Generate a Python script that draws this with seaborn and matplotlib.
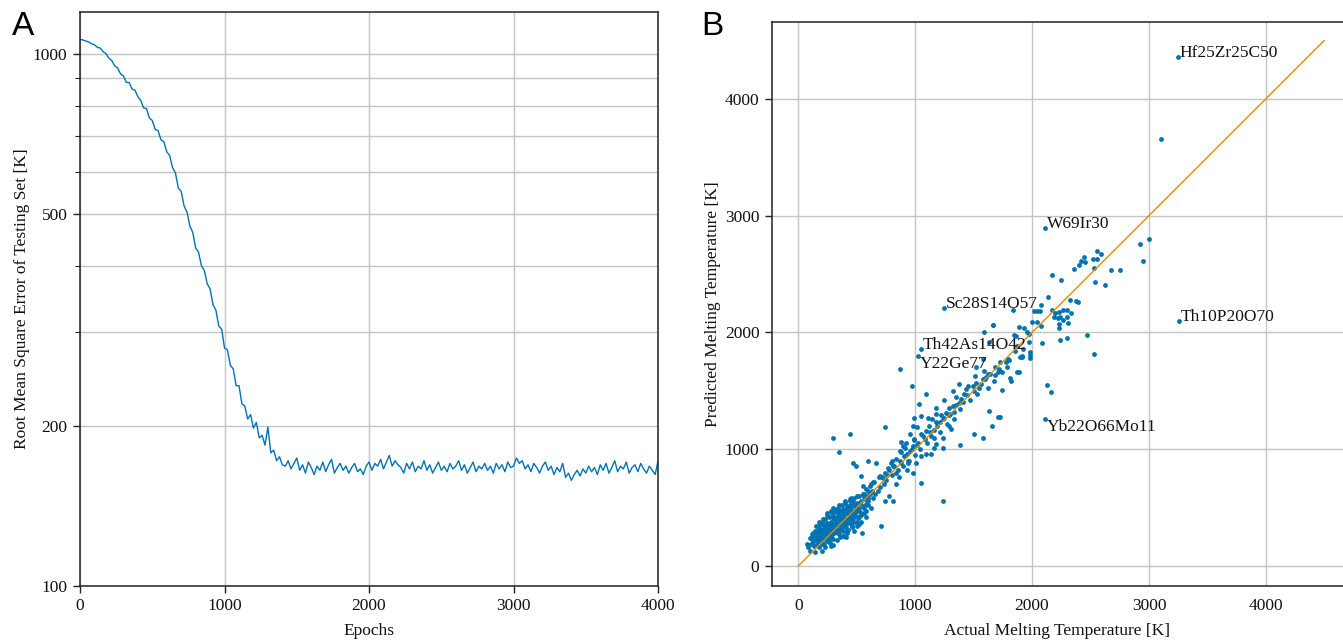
import numpy as np
import pandas as pd
import matplotlib
matplotlib.use("Agg")
import matplotlib.pyplot as plt
import matplotlib.ticker as mticker
import seaborn as sns

# =========================
# dados - painel A (erro do conjunto de teste, a cada 20 épocas)
# =========================
epocas = np.arange(0, 4001, 20)

rmse_queda = [
    1066, 1063, 1058, 1054, 1046, 1041, 1030, 1026, 1010, 1002,
    982, 972, 950, 942, 918, 910, 885, 884, 860, 855,
    832, 818, 792, 790, 758, 750, 722, 718, 690, 684,
    655, 645, 612, 598, 560, 552, 518, 505, 475, 462,
    432, 424, 400, 392, 370, 362, 338, 330, 308, 304,
    280, 278, 260, 256, 238, 238, 220, 218, 206, 210,
    198, 203, 190, 192, 184, 199, 178, 180, 172, 175,
    169,
]

rmse_plato = [
    168, 172, 166, 170, 174, 165, 169, 163, 171, 167,
    162, 168, 165, 171, 164, 169, 173, 163, 167, 170,
    165, 168, 163, 167, 170, 164, 166, 162, 168, 171,
    165, 170, 168, 173, 166, 171, 176, 168, 172, 169,
    167, 163, 170, 166, 171, 164, 168, 166, 172, 165,
    169, 163, 167, 171, 165, 168, 164, 170, 166, 168,
    172, 165, 169, 163, 167, 171, 164, 168, 166, 170,
    165, 168, 163, 170, 166, 169, 164, 171, 167, 168,
    174, 170, 172, 166, 169, 164, 170, 167, 163, 168,
    171, 165, 168, 162, 167, 164, 170, 160, 163, 158,
    162, 165, 161, 166, 163, 168, 164, 167, 162, 169,
    165, 170, 163, 167, 172, 164, 168, 166, 171, 163,
    167, 169, 164, 170, 166, 163, 168, 165, 162, 172,
]

rmse = rmse_queda + rmse_plato

# =========================
# dados - painel B (real x previsto, em K)
# =========================
rotulos = ["Hf25Zr25C50", "W69Ir30", "Sc28S14O57", "Th42As14O42",
           "Y22Ge77", "Th10P20O70", "Yb22O66Mo11"]
rotulo_real = [3245, 2115, 1245, 1046, 1025, 3255, 2112]
rotulo_prev = [4360, 2898, 2211, 1860, 1798, 2094, 1255]
rotulo_va = ["baseline", "baseline", "baseline", "baseline", "top", "baseline", "top"]

pontos_altos = [(3100, 3652), (1667, 2060)]

pontos_regiao_alta = [
    (2920, 2754), (3003, 2803), (2952, 2614), (2553, 2694), (2593, 2674),
    (2524, 2626), (2556, 2631), (2444, 2649), (2419, 2614), (2450, 2600),
    (2405, 2574), (2356, 2540), (2533, 2549), (2672, 2537), (2752, 2537),
    (2174, 2494), (2248, 2446), (2541, 2431), (2621, 2409), (2134, 2306),
    (2325, 2280), (2379, 2269), (2396, 2263), (2074, 2231), (1838, 2194),
    (2014, 2180), (2043, 2183), (2068, 2183), (2174, 2191), (2199, 2166),
    (2228, 2171), (2265, 2191), (2296, 2194), (2333, 2166), (2191, 2134),
    (2219, 2123), (2236, 2129), (2265, 2109), (2299, 2129), (2308, 2083),
    (2234, 2069), (2234, 2037), (2003, 2086), (2043, 2086), (1889, 2046),
    (1934, 2034), (2077, 2057), (1974, 1989), (1974, 1914), (2085, 1906),
    (2242, 1937), (2296, 1949), (2473, 1980), (2533, 1817), (1843, 1977),
    (1863, 1966), (1872, 1886), (1926, 1857), (1900, 1789), (1917, 1789),
    (1986, 1831), (1980, 1803), (1986, 1780), (1858, 1840), (1803, 1760),
    (1775, 1743), (1786, 1706), (1741, 1663), (1815, 1611), (1823, 1580),
    (1892, 1663), (1741, 1511), (2125, 1549), (2165, 1491), (1729, 1280),
    (1960, 2000), (1912, 1794), (1875, 1663), (1790, 1771),
]

pontos_regiao_media = [
    (1724, 1743), (1705, 1663), (1685, 1634), (1676, 1586), (1619, 1643),
    (1591, 2000), (1662, 2063), (1634, 1914), (1577, 1771), (1591, 1671),
    (1605, 1614), (1577, 1600), (1622, 1520), (1548, 1520), (1514, 1623),
    (1520, 1571), (1491, 1537), (1520, 1700), (1449, 1543), (1435, 1514),
    (1378, 1557), (1420, 1471), (1392, 1434), (1349, 1443), (1378, 1394),
    (1327, 1371), (1293, 1351), (1335, 1320), (1293, 1291), (1264, 1314),
    (1250, 1271), (1222, 1291), (1179, 1300), (1213, 1234), (1179, 1229),
    (1145, 1257), (1122, 1200), (1159, 1166), (1136, 1114), (1094, 1157),
    (1080, 1086), (1051, 1129), (1023, 1057), (994, 1086), (980, 1029),
    (952, 986), (923, 1057), (895, 1029), (867, 986), (901, 943),
    (938, 900), (881, 880), (838, 914), (810, 857), (795, 886),
    (767, 843), (739, 800), (724, 757), (696, 771), (668, 886),
    (639, 720), (611, 686), (582, 657), (554, 686), (597, 900),
    (540, 771), (497, 857), (469, 886), (440, 1129), (349, 977),
    (298, 1100), (739, 1186), (872, 1686), (972, 1537), (1037, 1386),
    (1094, 1471), (994, 1271), (1051, 1286), (980, 1200), (1051, 943),
    (980, 800), (1051, 714), (1236, 557), (1136, 957), (1179, 1043),
    (1236, 1014), (1293, 1200), (1382, 1034), (1503, 1129), (1577, 1100),
    (1656, 1200), (1710, 1280), (1634, 1329), (838, 700), (810, 557),
    (739, 557), (776, 600), (710, 343), (548, 286), (597, 586),
    (568, 571), (497, 514), (440, 571), (412, 486), (406, 251),
    (284, 171), (71, 186), (99, 243), (128, 286),
]

pontos_diagonal = [
    (620, 700), (650, 720), (680, 640), (700, 680), (720, 760), (750, 740),
    (780, 820), (800, 780), (820, 860), (850, 820), (870, 900), (900, 860),
    (930, 960), (950, 900), (970, 1000), (1000, 950), (1020, 1040), (640, 580),
    (660, 620), (690, 760), (730, 700), (760, 780), (800, 900), (840, 800),
    (880, 980), (910, 1010), (940, 880), (990, 1080), (1040, 1000), (1070, 1110),
    (1100, 1050), (1130, 1150), (1160, 1100), (1190, 1200), (1210, 1150),
    (1240, 1260), (1270, 1220), (1300, 1300), (1330, 1260), (1350, 1380),
    (1380, 1340), (1410, 1400), (1440, 1460), (1470, 1420), (1500, 1500),
    (1530, 1470), (1560, 1560), (1600, 1600), (1640, 1640), (1680, 1700),
    (1720, 1690), (880, 1060), (960, 1130), (1020, 1190), (1110, 1270),
    (1180, 1350), (1250, 1420), (1320, 1500), (860, 760), (930, 820),
    (1010, 880), (1090, 960), (1160, 1010), (1240, 1100), (1310, 1170),
]

pontos_aglomerado = [
    (95, 180), (110, 240), (120, 200), (130, 260), (135, 170), (140, 300),
    (150, 220), (155, 280), (160, 190), (165, 330), (170, 250), (175, 210),
    (180, 300), (185, 360), (190, 230), (195, 280), (200, 320), (205, 190),
    (210, 260), (215, 350), (220, 300), (225, 240), (230, 400), (235, 280),
    (240, 330), (245, 210), (250, 370), (255, 300), (260, 260), (265, 420),
    (270, 340), (275, 290), (280, 380), (285, 240), (290, 320), (295, 430),
    (300, 360), (305, 280), (310, 400), (315, 330), (320, 460), (325, 300),
    (330, 380), (335, 420), (340, 350), (345, 270), (350, 440), (355, 390),
    (360, 320), (365, 470), (370, 410), (375, 360), (380, 300), (385, 450),
    (390, 380), (395, 420), (400, 340), (405, 490), (410, 400), (415, 450),
    (420, 370), (425, 310), (430, 470), (435, 420), (440, 390), (445, 500),
    (450, 440), (455, 360), (460, 470), (465, 410), (470, 520), (475, 450),
    (480, 380), (485, 490), (490, 430), (500, 540), (505, 470), (510, 410),
    (520, 500), (530, 460), (540, 560), (550, 510), (560, 450), (570, 580),
    (580, 530), (590, 600), (600, 560), (610, 620), (620, 500), (630, 640),
    (150, 250), (170, 280), (190, 310), (210, 230), (230, 330), (250, 280),
    (270, 310), (290, 270), (310, 350), (330, 310), (350, 300), (370, 330),
    (390, 350), (410, 330), (430, 380), (450, 400), (470, 420), (200, 200),
    (240, 250), (280, 260), (320, 380), (360, 420), (400, 450), (440, 460),
    (480, 520), (260, 360), (300, 410), (340, 460), (380, 490), (420, 510),
    (130, 210), (180, 160), (220, 190), (260, 220), (300, 230), (340, 280),
    (380, 260), (420, 300), (460, 340), (500, 380), (520, 420), (540, 440),
    (560, 500), (580, 470), (600, 520), (350, 520), (300, 500), (250, 450),
    (200, 380), (400, 560), (450, 580), (500, 600), (550, 620), (480, 300),
    (520, 360), (80, 160), (100, 130), (115, 270), (140, 120), (150, 340),
    (180, 380), (200, 130), (210, 400), (230, 160), (250, 440), (270, 200),
    (280, 470), (300, 180), (310, 490), (330, 220), (340, 500), (360, 250),
    (370, 520), (390, 260), (400, 540), (420, 280), (440, 560), (460, 330),
    (480, 580), (500, 340), (520, 600), (540, 380), (560, 620), (580, 420),
    (600, 640), (330, 480), (290, 450), (210, 360), (170, 330), (160, 290),
    (190, 250), (220, 270), (250, 320), (280, 350), (320, 410), (350, 470),
    (380, 430), (410, 480), (440, 520), (470, 560), (500, 500), (530, 540),
    (560, 590), (590, 580),
]

linha_ideal = [0, 4500]

# =========================
# montagem da tabela
# =========================
todos = (pontos_altos + pontos_regiao_alta + pontos_regiao_media
         + pontos_diagonal + pontos_aglomerado
         + list(zip(rotulo_real, rotulo_prev)))
df_pontos = pd.DataFrame(todos, columns=["real", "previsto"])
df_erro = pd.DataFrame({"epoca": epocas, "rmse": rmse})

# =========================
# estilo
# =========================
sns.set_theme(style="whitegrid", palette="colorblind")
plt.rcParams["font.family"] = ["Liberation Serif", "DejaVu Serif"]
plt.rcParams["text.color"] = "#111111"
plt.rcParams["axes.labelcolor"] = "#111111"
plt.rcParams["xtick.color"] = "#111111"
plt.rcParams["ytick.color"] = "#111111"

azul = sns.color_palette("colorblind")[0]
laranja = sns.color_palette("colorblind")[1]
cor_grade = "#c4c4c4"

fig = plt.figure(figsize=(13.43, 6.44), dpi=100)
ax1 = fig.add_axes([0.0596, 0.0901, 0.4304, 0.8913])
ax2 = fig.add_axes([0.5748, 0.0901, 0.4252, 0.8758])

# =========================
# painel A
# =========================
sns.lineplot(data=df_erro, x="epoca", y="rmse", ax=ax1, color=azul, linewidth=1.0)
ax1.set_yscale("log")
ax1.set_xlim(0, 4000)
ax1.set_ylim(100, 1200)
ax1.yaxis.set_major_locator(mticker.FixedLocator([100, 200, 500, 1000]))
ax1.yaxis.set_major_formatter(mticker.FixedFormatter(["100", "200", "500", "1000"]))
ax1.yaxis.set_minor_locator(mticker.FixedLocator([300, 400, 600, 700, 800, 900]))
ax1.yaxis.set_minor_formatter(mticker.NullFormatter())
ax1.set_xticks([0, 1000, 2000, 3000, 4000])
ax1.set_xlabel("Epochs", fontsize=12.5, labelpad=6)
ax1.set_ylabel("Root Mean Square Error of Testing Set [K]", fontsize=12.5, labelpad=2)

# =========================
# painel B
# =========================
sns.scatterplot(data=df_pontos, x="real", y="previsto", ax=ax2, color=azul,
                s=12, linewidth=0, zorder=2)
sns.lineplot(x=linha_ideal, y=linha_ideal, ax=ax2, color=laranja,
             linewidth=1.0, zorder=3)
for nome, xr, yp, va in zip(rotulos, rotulo_real, rotulo_prev, rotulo_va):
    ax2.text(xr + 15, yp, nome, fontsize=12.5, va=va, ha="left", zorder=4)

ax2.set_xlim(-225, 4660)
ax2.set_ylim(-171, 4658)
ax2.set_xticks([0, 1000, 2000, 3000, 4000])
ax2.set_yticks([0, 1000, 2000, 3000, 4000])
ax2.set_xlabel("Actual Melting Temperature [K]", fontsize=12.5, labelpad=6)
ax2.set_ylabel("Predicted Melting Temperature [K]", fontsize=12.5, labelpad=3)
ax2.spines["right"].set_visible(False)

for ax in (ax1, ax2):
    ax.grid(which="both", color=cor_grade, linewidth=1.0)
    ax.set_axisbelow(True)
    for lado in ax.spines.values():
        lado.set_color("#222222")
        lado.set_linewidth(1.1)
    ax.tick_params(which="major", bottom=True, left=True, direction="out",
                   length=5, width=1, color="#222222", labelsize=12.5, pad=4)
    ax.tick_params(which="minor", left=True, direction="out", length=3.5,
                   width=0.8, color="#222222")
    ax.set_facecolor("white")

# sem marcas no eixo x do painel B
ax2.tick_params(axis="x", which="major", length=0, pad=9)

# rótulos dos painéis
fig.text(0.009, 0.983, "A", fontsize=24, va="top", ha="left", color="black",
         family=["Liberation Sans", "DejaVu Sans"])
fig.text(0.522, 0.983, "B", fontsize=24, va="top", ha="left", color="black",
         family=["Liberation Sans", "DejaVu Sans"])

fig.savefig("out.png", dpi=100, facecolor="white")
